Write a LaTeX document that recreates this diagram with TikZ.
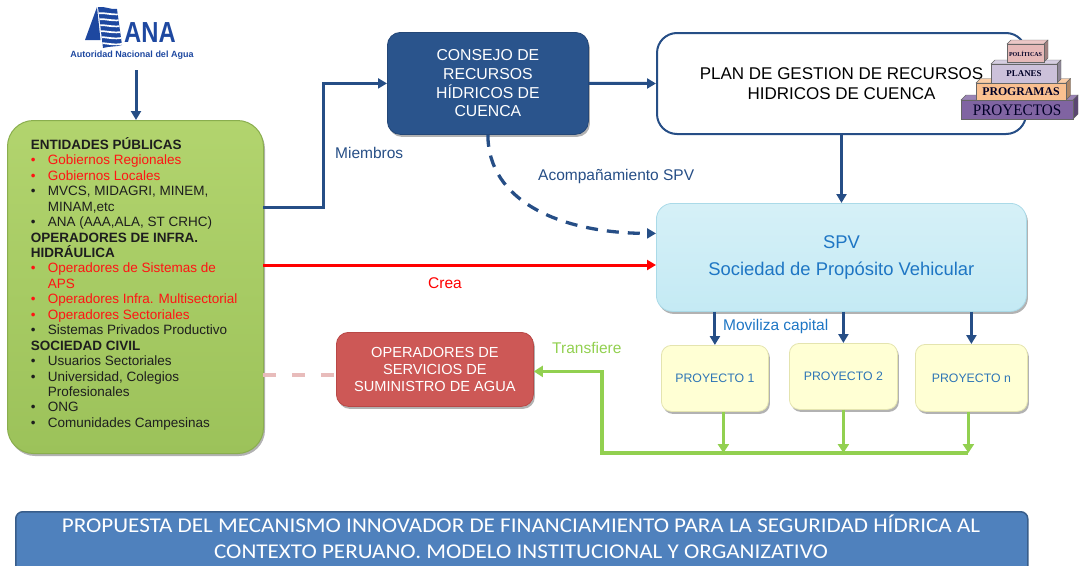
\documentclass[tikz,border=0pt]{standalone}
\usepackage{fontspec}
\setmainfont{Liberation Sans}
\newfontfamily\bannerfont{Carlito}
\newfontfamily\pyrfont{Liberation Serif}
\usetikzlibrary{arrows.meta,shadows,shadings,calc}
\definecolor{dblue}{RGB}{38,78,134}
\definecolor{consfill}{RGB}{42,84,140}
\definecolor{greenfill}{RGB}{156,194,90}
\definecolor{greenlight}{RGB}{178,212,110}
\definecolor{greenborder}{RGB}{138,174,78}
\definecolor{spvfill}{RGB}{196,234,244}
\definecolor{spvborder}{RGB}{170,218,232}
\definecolor{spvtext}{RGB}{30,118,196}
\definecolor{projfill}{RGB}{255,255,212}
\definecolor{projborder}{RGB}{228,228,175}
\definecolor{projtext}{RGB}{46,117,182}
\definecolor{opsfill}{RGB}{205,88,86}
\definecolor{opsborder}{RGB}{185,72,70}
\definecolor{garrow}{RGB}{146,208,80}
\definecolor{pinkline}{RGB}{232,188,187}
\definecolor{bannerfill}{RGB}{79,129,189}
\definecolor{bannerborder}{RGB}{56,93,138}
\definecolor{anablue}{RGB}{30,72,160}
\definecolor{txtred}{RGB}{255,20,20}
\definecolor{txtdark}{RGB}{30,30,30}
\definecolor{pyrA}{RGB}{128,100,162}
\definecolor{pyrB}{RGB}{250,192,144}
\definecolor{pyrC}{RGB}{204,193,218}
\definecolor{pyrD}{RGB}{230,185,184}
\newcommand\pbul{\makebox[17pt][l]{\textbullet}}
\newcommand\pind{\hspace*{17pt}}
\newcommand\pyrbox[6]{% x1 y1 x2 y2 depth colour
  \fill[#6!80!white,draw=black!60,line width=.4pt] (#1,#2) -- ++(#5,-#5) -- (#3+#5,#2-#5) -- (#3,#2) -- cycle;
  \fill[#6!70!black,draw=black!60,line width=.4pt] (#3,#2) -- (#3+#5,#2-#5) -- (#3+#5,#4-#5) -- (#3,#4) -- cycle;
  \fill[#6,draw=black!60,line width=.4pt] (#1,#2) rectangle (#3,#4);}
\begin{document}
\begin{tikzpicture}[x=1pt,y=-1pt,
  box/.style={anchor=north west, inner sep=0pt, align=center},
  shad/.style={drop shadow={shadow xshift=1.5pt,shadow yshift=-2.5pt,opacity=.3,fill=black}},
  barr/.style={draw=dblue, line width=3pt, -{Triangle[length=9pt,width=10pt]}},
  rarr/.style={draw=red, line width=3pt, -{Triangle[length=9pt,width=10pt]}},
  garr/.style={draw=garrow, line width=3.5pt, -{Triangle[length=9pt,width=11pt]}},
  lbl/.style={anchor=base west, inner sep=0pt, font=\fontsize{15.5}{18}\selectfont},
  projbox/.style={box, shad, fill=projfill, draw=projborder, line width=.8pt, rounded corners=10pt, text=projtext, font=\fontsize{12.3}{14}\selectfont},
  pyrtxt/.style={inner sep=0pt, text=black!85!blue}
]
\useasboundingbox (0,0) rectangle (1089,565);

% ---------- ANA logo ----------
\fill[anablue] (85,40) -- (97,7) -- (100.5,40) -- cycle;
\begin{scope}
  \clip (98,7) .. controls (105,6) and (111,10) .. (117,9) -- (122,45) .. controls (116,47) and (110,46) .. (103,48) -- cycle;
  \fill[anablue] (95,0) rectangle (125,50);
  \foreach \yy in {14,20,26,32,38,44}
    \draw[white, line width=1.7pt] (96,\yy) .. controls (104,\yy-3) and (113,\yy+3) .. (125,\yy-1);
\end{scope}
\node[anchor=base west, inner sep=0pt, text=anablue, font=\bfseries\fontsize{29}{29}\selectfont] (anatxt) at (124,42) {\scalebox{0.82}[1]{ANA}};
\node[anchor=base, inner sep=0pt, text=anablue, font=\bfseries\fontsize{9}{10}\selectfont] (anasub) at (132,57) {Autoridad Nacional del Agua};
\coordinate (anaA) at (136,70);

% ---------- main boxes ----------
\node[box, shad, top color=greenlight, bottom color=greenfill, draw=greenborder, line width=1pt, rounded corners=26pt, minimum width=256pt, minimum height=333pt] (pub) at (7,120) {};
\node[anchor=north west, inner sep=0pt, align=left, text=txtdark, font=\fontsize{13.5}{15.44}\selectfont] (pubtxt) at (30.7,137.3) {%
\textbf{ENTIDADES PÚBLICAS}\\
\textcolor{txtred}{\pbul Gobiernos Regionales}\\
\textcolor{txtred}{\pbul Gobiernos Locales}\\
\pbul MVCS, MIDAGRI, MINEM,\\
\pind MINAM,etc\\
\pbul ANA (AAA,ALA, ST CRHC)\\
\textbf{OPERADORES DE INFRA.}\\
\textbf{HIDRÁULICA}\\
\textcolor{txtred}{\pbul Operadores de Sistemas de}\\
\textcolor{txtred}{\pind APS}\\
\textcolor{txtred}{\pbul Operadores Infra. Multisectorial}\\
\textcolor{txtred}{\pbul Operadores Sectoriales}\\
\pbul Sistemas Privados Productivo\\
\textbf{SOCIEDAD CIVIL}\\
\pbul Usuarios Sectoriales\\
\pbul Universidad, Colegios\\
\pind Profesionales\\
\pbul ONG\\
\pbul Comunidades Campesinas};

\node[box, shad, fill=consfill, draw=consfill!85!black, line width=.8pt, rounded corners=13pt, minimum width=201pt, minimum height=102pt, text=white, font=\fontsize{15.8}{18.6}\selectfont] (cons) at (387,32) {CONSEJO DE\\RECURSOS\\HÍDRICOS DE\\CUENCA};

\node[box, fill=white, draw=dblue, line width=2pt, rounded corners=20pt, minimum width=369pt, minimum height=101pt, text=black, font=\fontsize{17}{19.6}\selectfont] (plan) at (656,32) {PLAN DE GESTION DE RECURSOS\\HIDRICOS DE CUENCA};

% ---------- pyramid ----------
\pyrbox{961}{100}{1073}{119}{5}{pyrA}
\pyrbox{976}{83}{1066}{100}{4.5}{pyrB}
\pyrbox{991}{64}{1057}{83}{4}{pyrC}
\pyrbox{1007}{44}{1044}{62}{4}{pyrD}
\node[pyrtxt, font=\pyrfont\fontsize{16}{16}\selectfont] (pyproy) at (1017,110.5) {\scalebox{0.95}[1]{PROYECTOS}};
\node[pyrtxt, font=\pyrfont\bfseries\fontsize{11.8}{12}\selectfont] (pyprog) at (1021,92) {PROGRAMAS};
\node[pyrtxt, font=\pyrfont\bfseries\fontsize{8.9}{9}\selectfont] (pyplan) at (1024,74) {PLANES};
\node[pyrtxt, font=\pyrfont\bfseries\fontsize{6}{6}\selectfont] (pypol) at (1025.5,53.5) {POLÍTICAS};

\node[box, shad, top color=spvfill!70!white, bottom color=spvfill, draw=spvborder, line width=.8pt, rounded corners=16pt, minimum width=370pt, minimum height=108pt, text=spvtext, font=\fontsize{18.4}{27}\selectfont] (spv) at (656,203) {SPV\\Sociedad de Propósito Vehicular};

\node[projbox, minimum width=107pt, minimum height=66pt] (p1) at (661,345) {PROYECTO 1};
\node[projbox, minimum width=108pt, minimum height=66pt] (p2) at (789,343) {PROYECTO 2};
\node[projbox, minimum width=112pt, minimum height=67pt] (pn) at (915,344) {PROYECTO n};

\node[box, shad, fill=opsfill, draw=opsborder, line width=.8pt, rounded corners=12pt, minimum width=197pt, minimum height=74pt, text=white, font=\fontsize{14.6}{17}\selectfont] (ops) at (336,332) {OPERADORES DE\\SERVICIOS DE\\SUMINISTRO DE AGUA};

\node[box, fill=bannerfill, draw=bannerborder, line width=1.5pt, rounded corners=7pt, minimum width=1012pt, minimum height=70pt] (ban) at (15,511) {};
\node[inner sep=0pt, align=center, text=white, font=\bannerfont\fontsize{21}{26}\selectfont] (bantxt) at (521,537) {\scalebox{1.1}[1]{PROPUESTA DEL MECANISMO INNOVADOR DE FINANCIAMIENTO PARA LA SEGURIDAD HÍDRICA AL}\\\scalebox{1.1}[1]{CONTEXTO PERUANO. MODELO INSTITUCIONAL Y ORGANIZATIVO}};

% ---------- connectors ----------
\draw[barr] (anaA) -- (anaA |- pub.north);
\coordinate (mA) at (263,207);
\draw[barr] (mA) -- ++(60,0) |- (cons.west);
\draw[barr] (cons.east) -- (plan.west);
\draw[barr] (plan.south) -- (plan.south |- spv.north);
\draw[draw=dblue, line width=3.3pt, dash pattern=on 12pt off 9pt, -{Triangle[length=9pt,width=10pt]}] (cons.south) .. controls +(0,66) and +(-96,0) .. ([yshift=24pt]spv.west);
\coordinate (cA) at (263,265);
\draw[rarr] (cA) -- (cA -| spv.west);
\foreach \p in {p1,p2,pn}
  \draw[barr] (\p.north |- spv.south) -- (\p.north);
\coordinate (gl) at (602,453);
\coordinate (g1) at ([xshift=8.5pt]p1.south);
\coordinate (g2) at (p2.south);
\coordinate (gn) at ([xshift=-3pt]pn.south);
\foreach \g in {g1,g2,gn}
  \draw[garr] (\g) -- (\g |- gl);
\draw[garr] (gn |- gl) -- (gl) |- ([yshift=-2pt]ops.east);
\coordinate (pA) at (263,375);
\draw[draw=pinkline, line width=4pt, dash pattern=on 13pt off 16pt] (pA) -- (pA -| ops.west);

% ---------- labels ----------
\node[lbl, text=dblue] (lmiem) at (335,158) {Miembros};
\node[lbl, text=dblue] (lacom) at (538,180) {Acompañamiento SPV};
\node[lbl, text=red] (lcrea) at (428,288) {Crea};
\node[lbl, text=spvtext] (lmov) at (723,330) {Moviliza capital};
\node[lbl, text=garrow] (ltran) at (552,353) {Transfiere};
\end{tikzpicture}
\end{document}
